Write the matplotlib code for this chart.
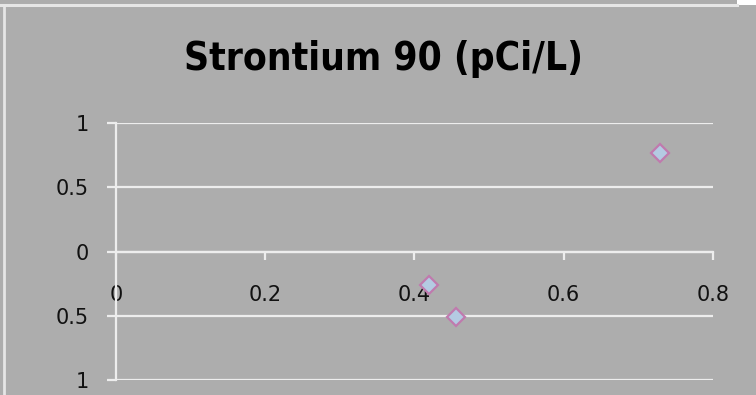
import matplotlib
matplotlib.use("Agg")
import matplotlib.pyplot as plt
from matplotlib.lines import Line2D
from matplotlib.patches import Rectangle
from matplotlib import font_manager

title = "Strontium 90 (pCi/L)"
x_vals = [0.419, 0.455, 0.729]
y_vals = [-0.26, -0.51, 0.77]
x_ticks = [0, 0.2, 0.4, 0.6, 0.8]
x_tick_labels = ["0", "0.2", "0.4", "0.6", "0.8"]
y_ticks = [1, 0.5, 0, -0.5, -1]
y_tick_labels = ["1", "0.5", "0", "0.5", "1"]

W, H = 756, 395
bg = "#ADADAD"
grid_c = "#EDEDED"

names = {f.name for f in font_manager.fontManager.ttflist}
title_font = "DejaVu Sans"
title_stretch = "normal"
for cand in ["Liberation Sans Narrow", "DejaVu Sans Condensed"]:
    if cand in names:
        title_font = cand
        break
else:
    title_stretch = "condensed"

fig = plt.figure(figsize=(W / 100, H / 100), dpi=100, facecolor=bg)

# frame decorations
fig.add_artist(Line2D([0, 737 / W], [1 - 4.5 / H, 1 - 4.5 / H], color="#E6E6E6", lw=2.2, transform=fig.transFigure))
fig.add_artist(Line2D([3.5 / W, 3.5 / W], [0, 1 - 4.5 / H], color="#E6E6E6", lw=2.0, transform=fig.transFigure))
fig.add_artist(Rectangle((737 / W, 1 - 5 / H), 19 / W, 5 / H, color="#FFFFFF", transform=fig.transFigure, lw=0))

ax = fig.add_axes([116 / W, 15 / H, (713 - 116) / W, (380 - 123) / H])
ax.set_facecolor(bg)
ax.set_xlim(0, 0.8)
ax.set_ylim(-1, 1)

ax.set_yticks(y_ticks)
ax.set_yticklabels(y_tick_labels)
ax.set_xticks(x_ticks)
ax.set_xticklabels(x_tick_labels)

for yv in y_ticks:
    ax.axhline(yv, color=grid_c, lw=1.6, zorder=1)

for s in ["top", "right"]:
    ax.spines[s].set_visible(False)
ax.spines["left"].set_color(grid_c)
ax.spines["left"].set_linewidth(1.6)
ax.spines["bottom"].set_position(("data", 0))
ax.spines["bottom"].set_color(grid_c)
ax.spines["bottom"].set_linewidth(1.6)

ax.tick_params(axis="y", direction="out", length=6.5, width=1.6, color=grid_c,
               labelsize=15, pad=13, labelcolor="#111111")
ax.tick_params(axis="x", direction="out", length=6, width=1.6, color=grid_c,
               labelsize=15, pad=18, labelcolor="#111111")

ax.plot(x_vals, y_vals, linestyle="none", marker="D", markersize=9.5,
        markerfacecolor="#B4CAE2", markeredgecolor="#C07AAE", markeredgewidth=1.6,
        zorder=5, clip_on=False)

t = fig.text(383 / W, 1 - 70 / H, title, ha="center", va="baseline", fontsize=33,
             fontweight="bold", family=[title_font, "DejaVu Sans"], fontstretch=title_stretch,
             color="#000000")
# fit title width to ~400 px
fig.canvas.draw()
w = t.get_window_extent().width
t.set_fontsize(33 * 400 / w)

fig.savefig("out.png", dpi=100, facecolor=bg)
